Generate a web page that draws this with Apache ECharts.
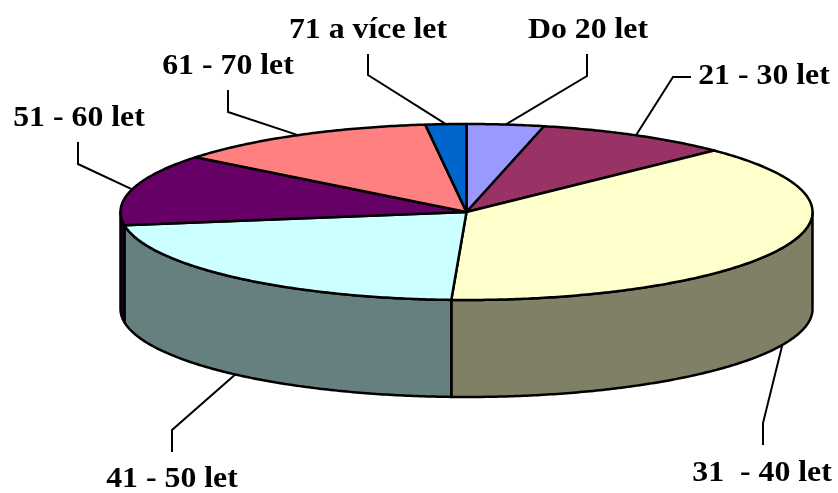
<!DOCTYPE html>
<html>
<head>
<meta charset="utf-8">
<script src="https://cdn.jsdelivr.net/npm/echarts@6/dist/echarts.min.js"></script>
<style>
  html, body { margin: 0; background: #fff; }
  #main { width: 838px; height: 493px; }
</style>
</head>
<body>
<div id="main"></div>
<script>
// data (share of each age group, %)
const categories = ['Do 20 let', '21 - 30 let', '31  - 40 let', '41 - 50 let', '51 - 60 let', '61 - 70 let', '71 a více let'];
const shares = [3.6, 9.1, 38.0, 21.9, 13.1, 12.4, 1.9];

const topColors = ['#9999FF', '#993366', '#FFFFCC', '#CCFFFF', '#660066', '#FF8080', '#0066CC'];
const sideColors = ['#666699', '#66264D', '#808066', '#668080', '#1A001A', '#BF6060', '#004D99'];

// label text centre, leader elbow, leader start (px)
const labelLayout = [
  [588, 30, 587, 76, 587, 54],
  [764, 76, 673, 77, 691, 77],
  [762, 473, 763, 423, 763, 445],
  [172, 479, 172, 430, 172, 452],
  [79, 118, 78, 164, 78, 142],
  [228, 66, 228, 112, 228, 90],
  [368, 30, 368, 75, 368, 54]
];

// pie geometry
const cx = 466.5, cy = 212, rx = 346, ry = 88, depth = 97;

const total = shares.reduce((a, b) => a + b, 0);
const cum = [0];
shares.forEach(v => cum.push(cum[cum.length - 1] + v));

function pt(t, dy) {
  return [cx + rx * Math.sin(t), cy - ry * Math.cos(t) + dy];
}
function arc(t0, t1, dy) {
  const n = Math.max(2, Math.ceil(Math.abs(t1 - t0) / 0.01));
  const pts = [];
  for (let i = 0; i <= n; i++) pts.push(pt(t0 + (t1 - t0) * i / n, dy));
  return pts;
}

function renderItem(params, api) {
  const i = params.dataIndex;
  const start = cum[i] / total * Math.PI * 2;
  const end = start + api.value(0) / total * Math.PI * 2;
  const stroke = { stroke: '#000', lineWidth: 2.5, lineJoin: 'round' };
  const children = [];

  // visible front wall
  const a = Math.max(start, Math.PI / 2), b = Math.min(end, Math.PI * 1.5);
  if (a < b) {
    children.push({
      type: 'polygon',
      shape: { points: arc(a, b, 0).concat(arc(b, a, depth)) },
      style: Object.assign({ fill: sideColors[i] }, stroke)
    });
  }
  // top face
  children.push({
    type: 'polygon',
    shape: { points: [[cx, cy]].concat(arc(start, end, 0)) },
    style: Object.assign({ fill: topColors[i] }, stroke)
  });

  // leader line + label
  const mid = (start + end) / 2;
  const front = mid > Math.PI / 2 && mid < Math.PI * 1.5;
  const anchor = pt(mid, front ? depth : 0);
  const L = labelLayout[i];
  children.push({
    type: 'polyline',
    shape: { points: [anchor, [L[2], L[3]], [L[4], L[5]]] },
    style: { stroke: '#000', lineWidth: 2, fill: null }
  });
  children.push({
    type: 'text',
    x: L[0], y: L[1],
    scaleX: 1.06,
    style: {
      text: categories[i],
      fill: '#000',
      fontFamily: 'Liberation Serif',
      fontWeight: 'bold',
      fontSize: 30,
      align: 'center',
      verticalAlign: 'middle'
    }
  });
  return { type: 'group', children: children };
}

const chart = echarts.init(document.getElementById('main'));
chart.setOption({
  animation: false,
  backgroundColor: '#fff',
  series: [{
    type: 'custom',
    coordinateSystem: 'none',
    renderItem: renderItem,
    data: shares.map((v, i) => ({ name: categories[i], value: v }))
  }]
});
</script>
</body>
</html>
